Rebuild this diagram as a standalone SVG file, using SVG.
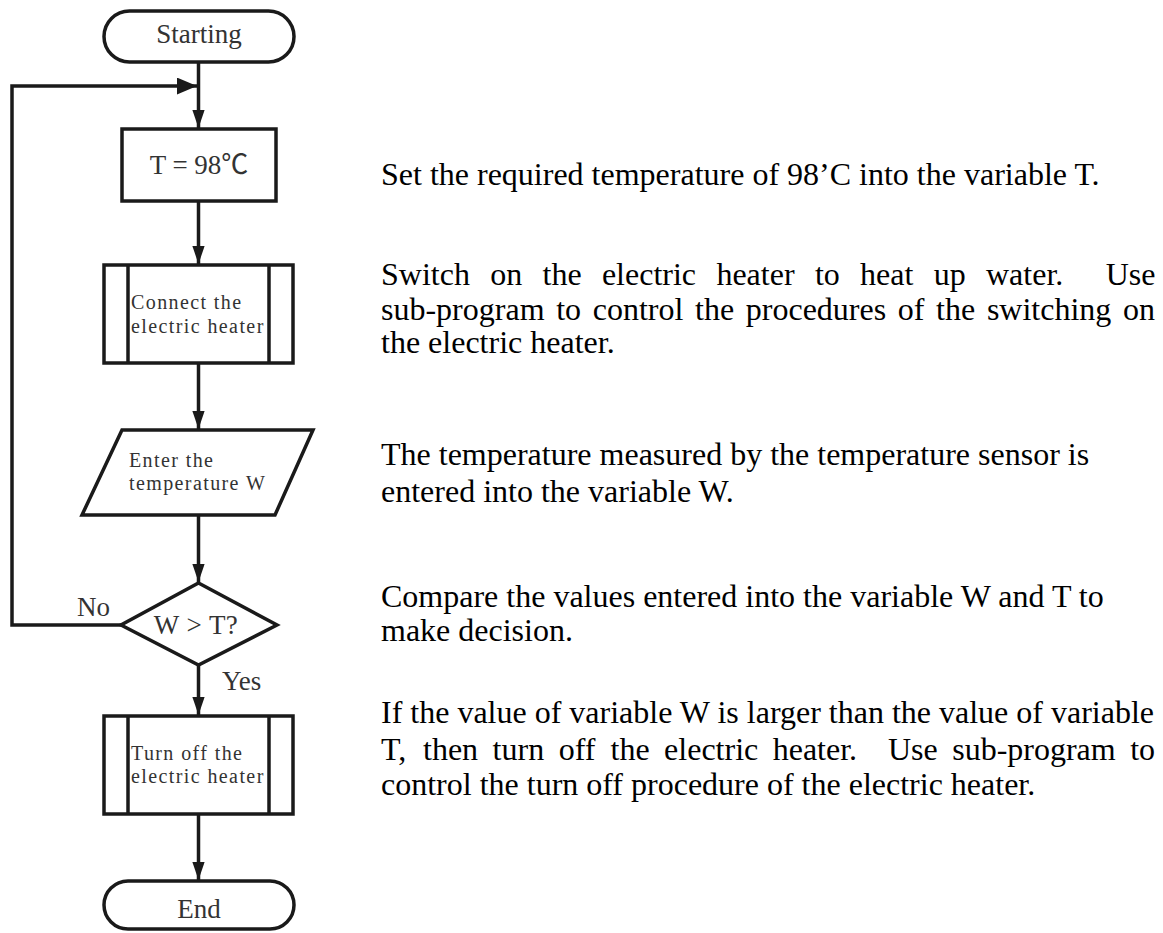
<svg xmlns="http://www.w3.org/2000/svg" width="1163" height="933" viewBox="0 0 1163 933">
<style>
.shape{fill:#fff;stroke:#1a1a1a;stroke-width:3.5;stroke-linejoin:miter}
.conn{fill:none;stroke:#1a1a1a;stroke-width:3.5}
.lbl{font-family:"Liberation Serif","Times New Roman","Noto Sans CJK SC",serif;fill:#333}
.big{font-size:27px}
.small{font-size:20px;letter-spacing:1.4px}
.desc{font-family:"Liberation Serif","Times New Roman",serif;font-size:32px;fill:#000}
</style>
<defs>
<marker id="arrV" markerUnits="userSpaceOnUse" markerWidth="18" markerHeight="26" refX="25" refY="8.5" orient="auto" viewBox="0 0 25 17">
<path d="M0,0 L25,8.5 L0,17 Z" fill="#1a1a1a"/>
</marker>
<marker id="arrH" markerUnits="userSpaceOnUse" markerWidth="20" markerHeight="17" refX="19" refY="8" orient="auto" viewBox="0 0 19 16">
<path d="M0,0 L19,8 L0,16 Z" fill="#1a1a1a"/>
</marker>
</defs>
<rect width="1163" height="933" fill="#fff"/>

<g id="connectors">
<line class="conn" x1="198.5" y1="62" x2="198.5" y2="128" marker-end="url(#arrV)"/>
<polyline class="conn" points="121,625 12,625 12,86 197,86" marker-end="url(#arrH)"/>
<line class="conn" x1="198.5" y1="201" x2="198.5" y2="264" marker-end="url(#arrV)"/>
<line class="conn" x1="198.5" y1="363" x2="198.5" y2="429" marker-end="url(#arrV)"/>
<line class="conn" x1="198.5" y1="515" x2="198.5" y2="582" marker-end="url(#arrV)"/>
<line class="conn" x1="198.5" y1="665" x2="198.5" y2="715" marker-end="url(#arrV)"/>
<line class="conn" x1="198.5" y1="814" x2="198.5" y2="880" marker-end="url(#arrV)"/>
<text class="lbl big" x="77" y="616" font-size="26">No</text>
<text class="lbl big" x="222" y="690" font-size="26">Yes</text>
</g>

<g id="start">
<rect class="shape" x="104" y="11" width="190" height="51" rx="25.5"/>
<text class="lbl big" x="199" y="43" text-anchor="middle" font-size="28">Starting</text>
</g>

<g id="setT">
<rect class="shape" x="122" y="129" width="154" height="72"/>
<text class="lbl big" x="199" y="174" text-anchor="middle">T = 98℃</text>
</g>

<g id="connect">
<rect class="shape" x="104" y="265" width="189" height="98"/>
<line class="shape" x1="128" y1="265" x2="128" y2="363"/>
<line class="shape" x1="269" y1="265" x2="269" y2="363"/>
<text class="lbl small"><tspan x="131" y="309">Connect the</tspan><tspan x="131" y="333">electric heater</tspan></text>
</g>

<g id="enterW">
<polygon class="shape" points="122,430 313,430 275,515 82,515"/>
<text class="lbl small"><tspan x="129" y="467">Enter the</tspan><tspan x="129" y="490">temperature W</tspan></text>
</g>

<g id="decision">
<polygon class="shape" points="198.5,583 277,625 198.5,665 121,625"/>
<text class="lbl big" x="196" y="634" text-anchor="middle" letter-spacing="0.5">W &gt; T?</text>
</g>

<g id="turnoff">
<rect class="shape" x="104" y="716" width="189" height="98"/>
<line class="shape" x1="128" y1="716" x2="128" y2="814"/>
<line class="shape" x1="269" y1="716" x2="269" y2="814"/>
<text class="lbl small"><tspan x="131" y="760">Turn off the</tspan><tspan x="131" y="783">electric heater</tspan></text>
</g>

<g id="end">
<rect class="shape" x="104" y="881" width="190" height="48" rx="24"/>
<text class="lbl big" x="199" y="918" text-anchor="middle">End</text>
</g>

<g id="descriptions">
<text class="desc" x="381" y="185">Set the required temperature of 98’C into the variable T.</text>
<text class="desc"><tspan x="381" y="285">Switch</tspan><tspan x="490.2">on</tspan><tspan x="542.5">the</tspan><tspan x="601.9">electric</tspan><tspan x="716.4">heater</tspan><tspan x="814.9">to</tspan><tspan x="860.1">heat</tspan><tspan x="933.7">up</tspan><tspan x="986">water.</tspan><tspan x="1105.7">Use</tspan><tspan x="381" y="320">sub-program</tspan><tspan x="556.2">to</tspan><tspan x="592.7">control</tspan><tspan x="695">the</tspan><tspan x="745.8">procedures</tspan><tspan x="897.8">of</tspan><tspan x="936.1">the</tspan><tspan x="986.9">switching</tspan><tspan x="1123">on</tspan><tspan x="381" y="353">the electric heater.</tspan></text>
<text class="desc"><tspan x="381" y="465">The temperature measured by the temperature sensor is</tspan><tspan x="381" y="502">entered into the variable W.</tspan></text>
<text class="desc"><tspan x="381" y="607">Compare the values entered into the variable W and T to</tspan><tspan x="381" y="641">make decision.</tspan></text>
<text class="desc"><tspan x="381" y="723">If the value of variable W is larger than the value of variable</tspan><tspan x="381" y="760">T,</tspan><tspan x="423">then</tspan><tspan x="492.6">turn</tspan><tspan x="558.7">off</tspan><tspan x="610.5">the</tspan><tspan x="664.1">electric</tspan><tspan x="772.7">heater.</tspan><tspan x="887.9">Use</tspan><tspan x="952.2">sub-program</tspan><tspan x="1130.2">to</tspan><tspan x="381" y="795">control the turn off procedure of the electric heater.</tspan></text>
</g>
</svg>
